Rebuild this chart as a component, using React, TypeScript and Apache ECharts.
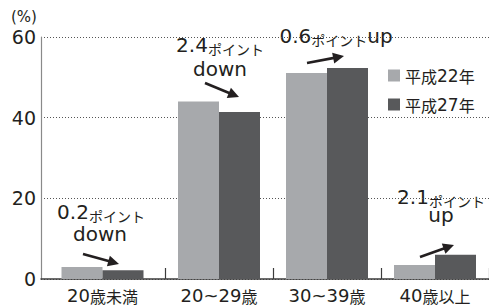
import React, { useEffect, useRef } from 'react';
import * as echarts from 'echarts';

const categories = ['20歳未満', '20~29歳', '30~39歳', '40歳以上'];
const seriesNames = ['平成22年', '平成27年'];
const valuesH22 = [3.0, 44.0, 51.1, 3.5];
const valuesH27 = [2.2, 41.4, 52.3, 6.0];
const yMin = 0;
const yMax = 60;
const yInterval = 20;
const unitLabel = '(%)';
const annotationNumbers = ['0.2', '2.4', '0.6', '2.1'];
const annotationUnit = 'ポイント';
const annotationDirections = ['down', 'down', 'up', 'up'];

const TEXT = '#231f20';
const LIGHT = '#a7a9ac';
const DARK = '#58595b';
const LATIN = 'DejaVu Sans';
const JP = 'Noto Sans CJK JP';

function arrow(x1: number, y1: number, x2: number, y2: number) {
  const dx = x2 - x1, dy = y2 - y1;
  const L = Math.hypot(dx, dy);
  const ux = dx / L, uy = dy / L;
  const nx = -uy, ny = ux;
  const hl = 11, hw = 5.5;
  const bx = x2 - ux * hl, by = y2 - uy * hl;
  return [
    { type: 'line', shape: { x1, y1, x2: bx + ux, y2: by + uy }, style: { stroke: TEXT, lineWidth: 2.6 } },
    {
      type: 'polygon',
      shape: { points: [[x2, y2], [bx + nx * hw, by + ny * hw], [bx - nx * hw, by - ny * hw]] },
      style: { fill: TEXT },
    },
  ];
}

const annRich = {
  n: { fontFamily: LATIN, fontSize: 20, fill: TEXT, color: TEXT, verticalAlign: 'bottom', lineHeight: 14 },
  u: { fontFamily: JP, fontSize: 14, fill: TEXT, color: TEXT, verticalAlign: 'bottom', lineHeight: 8, height: 12 },
  w: { fontFamily: LATIN, fontSize: 20, fill: TEXT, color: TEXT, lineHeight: 14 },
};

function annText(x: number, y: number, text: string) {
  return {
    type: 'text',
    x,
    y,
    style: { text, rich: annRich, align: 'center', verticalAlign: 'middle', fill: TEXT },
  };
}

// layout of the annotation marks (pixel positions)
const annLayout = [
  { top: [101, 215], dir: [100, 234], arrow: [83, 254, 119, 264] },
  { top: [220, 48], dir: [220, 69], arrow: [205, 83, 239, 97] },
  { top: [336, 39], dir: null, arrow: [307, 63, 344, 56] },
  { top: [441, 200], dir: [441, 215], arrow: [420, 257, 454, 245] },
];

const labelRich = {
  d: { fontFamily: LATIN, fontSize: 18, color: TEXT, verticalAlign: 'bottom', lineHeight: 18 },
  k: { fontFamily: JP, fontSize: 16, color: TEXT, verticalAlign: 'bottom', lineHeight: 15 },
};
const fmtLabel = (v: string) => {
  const m = v.match(/^([0-9~]+)(.*)$/);
  return m ? `{d|${m[1]}}{k|${m[2]}}` : v;
};

export default function App() {
  const ref = useRef<HTMLDivElement>(null);
  useEffect(() => {
    document.body.style.margin = '0';
    const chart = echarts.init(ref.current!, null, { renderer: 'svg' });
    const graphics: any[] = [
      {
        type: 'text',
        x: 24,
        y: 17,
        style: { text: unitLabel, font: `15px "${LATIN}"`, fill: TEXT, align: 'center', verticalAlign: 'middle' },
      },
    ];
    annLayout.forEach((a, i) => {
      const num = annotationNumbers[i];
      const d = annotationDirections[i];
      if (a.dir) {
        graphics.push(annText(a.top[0], a.top[1], `{n|${num}}{u|${annotationUnit}}`));
        graphics.push(annText(a.dir[0], a.dir[1], `{w|${d}}`));
      } else {
        graphics.push(annText(a.top[0], a.top[1], `{n|${num}}{u|${annotationUnit}}{n|${d}}`));
      }
      graphics.push(...arrow(a.arrow[0], a.arrow[1], a.arrow[2], a.arrow[3]));
    });

    const firstOnly = (arr: number[]) => arr.map((v, i) => (i === 0 ? v : '-'));
    const restOnly = (arr: number[]) => arr.map((v, i) => (i === 0 ? '-' : v));

    const barBase = { type: 'bar', barWidth: 41, barGap: '0%' };

    chart.setOption({
      animation: false,
      grid: [
        { left: 57, right: -4, top: 37, bottom: 28 },
        { left: 41, right: 0, top: 37, bottom: 28 },
        { left: 48, right: 5, top: 37, bottom: 28 },
      ],
      legend: {
        data: seriesNames,
        orient: 'vertical',
        left: 388,
        top: 67,
        itemWidth: 12,
        itemHeight: 12,
        itemGap: 12,
        icon: 'rect',
        padding: 0,
        formatter: (name: string) => {
          const m = name.match(/^(\D+)(\d+)(\D+)$/);
          return m ? `{k|${m[1]}}{d|${m[2]}}{k|${m[3]}}` : name;
        },
        textStyle: {
          color: TEXT,
          lineHeight: 16,
          rich: {
            k: { fontFamily: JP, fontSize: 16, color: TEXT, lineHeight: 16 },
            d: { fontFamily: LATIN, fontSize: 17, color: TEXT, lineHeight: 16 },
          },
        },
      },
      xAxis: [
        {
          type: 'category',
          gridIndex: 0,
          data: categories,
          axisLine: { show: false },
          axisTick: {
            show: true,
            inside: true,
            length: 11,
            interval: (i: number) => i > 0,
            lineStyle: { color: '#3c3c3c', width: 1.2 },
          },
          axisLabel: {
            interval: 0,
            margin: 7,
            formatter: (v: string, i: number) => (i === 0 ? '' : fmtLabel(v)),
            rich: labelRich,
          },
          splitLine: { show: false },
        },
        {
          type: 'value',
          gridIndex: 1,
          min: 0,
          max: 1,
          axisLine: { show: true, lineStyle: { color: '#3c3c3c', width: 1.5 } },
          axisTick: { show: false },
          axisLabel: { show: false },
          splitLine: { show: false },
        },
        {
          type: 'category',
          gridIndex: 2,
          data: categories,
          axisLine: { show: false },
          axisTick: { show: false },
          axisLabel: {
            interval: 0,
            margin: 7,
            formatter: (v: string, i: number) => (i === 0 ? fmtLabel(v) : ''),
            rich: labelRich,
          },
          splitLine: { show: false },
        },
      ],
      yAxis: [
        { type: 'value', gridIndex: 0, min: yMin, max: yMax, interval: yInterval, show: false, splitLine: { show: false } },
        {
          type: 'value',
          gridIndex: 1,
          min: yMin,
          max: yMax,
          interval: yInterval,
          axisLine: { show: true, lineStyle: { color: '#8a8a8a', width: 1.2 } },
          axisTick: { show: false },
          axisLabel: { color: TEXT, fontFamily: LATIN, fontSize: 19, margin: 5 },
          splitLine: { show: true, lineStyle: { color: '#555', type: [1, 2], width: 1 } },
        },
        { type: 'value', gridIndex: 2, min: yMin, max: yMax, interval: yInterval, show: false, splitLine: { show: false } },
      ],
      series: [
        { ...barBase, name: seriesNames[0], xAxisIndex: 0, yAxisIndex: 0, data: restOnly(valuesH22), itemStyle: { color: LIGHT } },
        { ...barBase, name: seriesNames[1], xAxisIndex: 0, yAxisIndex: 0, data: restOnly(valuesH27), itemStyle: { color: DARK } },
        { ...barBase, name: seriesNames[0], xAxisIndex: 2, yAxisIndex: 2, data: firstOnly(valuesH22), itemStyle: { color: LIGHT } },
        { ...barBase, name: seriesNames[1], xAxisIndex: 2, yAxisIndex: 2, data: firstOnly(valuesH27), itemStyle: { color: DARK } },
      ],
      graphic: graphics,
    });
    return () => chart.dispose();
  }, []);
  return <div ref={ref} style={{ width: 489, height: 307 }} />;
}
